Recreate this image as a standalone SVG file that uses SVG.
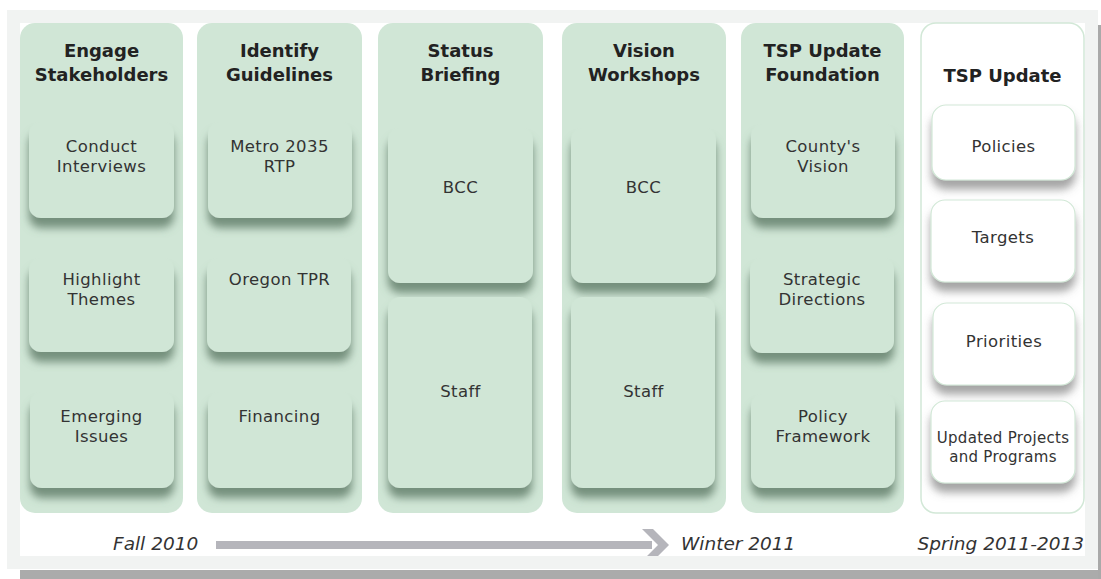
<svg xmlns="http://www.w3.org/2000/svg" width="1101" height="579" viewBox="0 0 1101 579">
  <style>
    .col { fill: #d0e6d6; }
    .col-open { fill: #ffffff; stroke: #d2e8d7; stroke-width: 1.5; }
    .box { fill: #d0e6d6; filter: url(#shadowGreen); }
    .wbox { fill: #ffffff; stroke: #d2e8d7; stroke-width: 1.2; filter: url(#shadowGray); }
    .head { font-family: "DejaVu Sans", "Liberation Sans", sans-serif; font-weight: bold; font-size: 18px; fill: #222222; text-anchor: middle; }
    .body { font-family: "DejaVu Sans", "Liberation Sans", sans-serif; font-size: 16.5px; fill: #333333; text-anchor: middle; letter-spacing: 0.4px; }
    .small { font-size: 15px; letter-spacing: 0.3px; }
    .time { font-family: "DejaVu Sans", "Liberation Sans", sans-serif; font-style: italic; font-size: 18.5px; fill: #333333; }
  </style>
  <defs>
    <filter id="shadowGreen" x="-10%" y="-20%" width="120%" height="160%">
      <feDropShadow dx="0" dy="10" stdDeviation="4" flood-color="#56735e" flood-opacity="0.75"/>
    </filter>
    <filter id="shadowGray" x="-10%" y="-20%" width="120%" height="160%">
      <feDropShadow dx="0" dy="9" stdDeviation="4" flood-color="#6a6a6a" flood-opacity="0.6"/>
    </filter>
    <clipPath id="panelClip">
      <rect x="20" y="23" width="1065" height="533"/>
    </clipPath>
  </defs>

  <!-- frame -->
  <rect x="0" y="0" width="1101" height="579" fill="#ffffff"/>
  <rect x="7" y="10" width="1091" height="559" fill="#f1f3f2"/>
  <rect x="20" y="23" width="1065" height="533" fill="#ffffff"/>
  <rect x="20" y="570" width="1081" height="9" fill="#ababab"/>
  <rect x="1098" y="25" width="3" height="554" fill="#a9a9a9"/>

  <!-- Engage Stakeholders -->
  <g id="engage">
    <rect class="col" x="20" y="23" width="163" height="490" rx="15"/>
    <text class="head" x="101.5" y="57">Engage</text>
    <text class="head" x="101.5" y="81">Stakeholders</text>
    <rect class="box" x="29" y="122" width="145" height="96" rx="12"/>
    <text class="body" x="101.5" y="152">Conduct</text>
    <text class="body" x="101.5" y="172">Interviews</text>
    <rect class="box" x="29" y="258" width="145" height="94" rx="12"/>
    <text class="body" x="101.5" y="285">Highlight</text>
    <text class="body" x="101.5" y="305">Themes</text>
    <rect class="box" x="30" y="392" width="144" height="96" rx="12"/>
    <text class="body" x="101.5" y="422">Emerging</text>
    <text class="body" x="101.5" y="442">Issues</text>
  </g>

  <!-- Identify Guidelines -->
  <g id="identify">
    <rect class="col" x="197" y="23" width="165" height="490" rx="15"/>
    <text class="head" x="279.5" y="57">Identify</text>
    <text class="head" x="279.5" y="81">Guidelines</text>
    <rect class="box" x="208" y="122" width="144" height="96" rx="12"/>
    <text class="body" x="279.5" y="152">Metro 2035</text>
    <text class="body" x="279.5" y="172">RTP</text>
    <rect class="box" x="207" y="258" width="144" height="94" rx="12"/>
    <text class="body" x="279.5" y="285">Oregon TPR</text>
    <rect class="box" x="208" y="392" width="144" height="96" rx="12"/>
    <text class="body" x="279.5" y="422">Financing</text>
  </g>

  <!-- Status Briefing -->
  <g id="status">
    <rect class="col" x="378" y="23" width="165" height="490" rx="15"/>
    <text class="head" x="460.5" y="57">Status</text>
    <text class="head" x="460.5" y="81">Briefing</text>
    <rect class="box" x="388" y="128" width="145" height="155" rx="12"/>
    <text class="body" x="460.5" y="193">BCC</text>
    <rect class="box" x="388" y="297" width="144" height="191" rx="12"/>
    <text class="body" x="460.5" y="397">Staff</text>
  </g>

  <!-- Vision Workshops -->
  <g id="vision">
    <rect class="col" x="562" y="23" width="164" height="490" rx="15"/>
    <text class="head" x="644" y="57">Vision</text>
    <text class="head" x="644" y="81">Workshops</text>
    <rect class="box" x="571" y="128" width="145" height="155" rx="12"/>
    <text class="body" x="643.5" y="193">BCC</text>
    <rect class="box" x="571" y="297" width="144" height="191" rx="12"/>
    <text class="body" x="643.5" y="397">Staff</text>
  </g>

  <!-- TSP Update Foundation -->
  <g id="foundation">
    <rect class="col" x="741" y="23" width="163" height="490" rx="15"/>
    <text class="head" x="822.5" y="57">TSP Update</text>
    <text class="head" x="822.5" y="81">Foundation</text>
    <rect class="box" x="751" y="124" width="144" height="94" rx="12"/>
    <text class="body" x="823" y="152">County's</text>
    <text class="body" x="823" y="172">Vision</text>
    <rect class="box" x="750" y="258" width="144" height="95" rx="12"/>
    <text class="body" x="822" y="285">Strategic</text>
    <text class="body" x="822" y="305">Directions</text>
    <rect class="box" x="751" y="394" width="144" height="94" rx="12"/>
    <text class="body" x="823" y="422">Policy</text>
    <text class="body" x="823" y="442">Framework</text>
  </g>

  <!-- TSP Update -->
  <g id="tsp-update">
    <rect class="col-open" x="921" y="23" width="163" height="490" rx="15"/>
    <text class="head" x="1002.5" y="82">TSP Update</text>
    <rect class="wbox" x="932" y="105" width="143" height="75" rx="14"/>
    <text class="body" x="1003.5" y="152">Policies</text>
    <rect class="wbox" x="931" y="200" width="144" height="82" rx="14"/>
    <text class="body" x="1003" y="243">Targets</text>
    <rect class="wbox" x="933" y="303" width="142" height="82" rx="14"/>
    <text class="body" x="1004" y="347">Priorities</text>
    <rect class="wbox" x="931" y="401" width="144" height="82" rx="14"/>
    <text class="body small" x="1003" y="443">Updated Projects</text>
    <text class="body small" x="1003" y="462">and Programs</text>
  </g>

  <!-- timeline arrow -->
  <g id="connectors" clip-path="url(#panelClip)">
    <rect x="216" y="541" width="436" height="8" fill="#b5b5bb"/>
    <polygon points="642,529 653,529 669,545 653,561 642,561 658,545" fill="#b5b5bb"/>
  </g>

  <g id="timeline-labels">
    <text class="time" x="113" y="550">Fall 2010</text>
    <text class="time" x="681" y="550">Winter 2011</text>
    <text class="time" x="1084" y="550" text-anchor="end">Spring 2011-2013</text>
  </g>
</svg>
